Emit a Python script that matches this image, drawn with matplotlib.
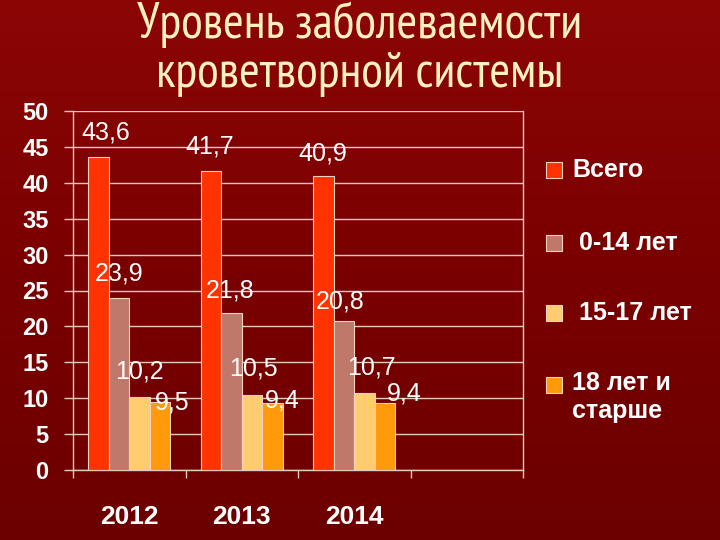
import matplotlib
matplotlib.use("Agg")
import matplotlib.pyplot as plt
import numpy as np
from matplotlib.patches import Rectangle
from matplotlib.colors import LinearSegmentedColormap

# ---- data ----
years = ["2012", "2013", "2014"]
series_names = ["Всего", " 0-14 лет", " 15-17 лет", "18 лет и\nстарше"]
total = [43.6, 41.7, 40.9]
age_0_14 = [23.9, 21.8, 20.8]
age_15_17 = [10.2, 10.5, 10.7]
age_18_plus = [9.5, 9.4, 9.4]
y_ticks = [0, 5, 10, 15, 20, 25, 30, 35, 40, 45, 50]

series = [total, age_0_14, age_15_17, age_18_plus]
colors = ["#FF3300", "#C0786A", "#FFCC6E", "#FF9A0A"]
# label offsets (pixels) relative to top-centre of each bar
label_offsets = [
    [(7, 24), (-1, 24), (-1, 23)],
    [(0, 25), (-1, 23), (-4, 19)],
    [(0, 25), (1, 26), (7, 26)],
    [(12, -1), (10, 2), (19, 9)],
]

plt.rcParams['font.family'] = ['Liberation Sans', 'DejaVu Sans']

fig = plt.figure(figsize=(7.2, 5.4), dpi=100)
fig.patch.set_facecolor("#760000")

# background gradient
bg = fig.add_axes([0, 0, 1, 1], zorder=-10)
grad = np.linspace(0, 1, 256).reshape(-1, 1)
cmap = LinearSegmentedColormap.from_list("bg", ["#8C0606", "#7A0000", "#6C0000"])
bg.imshow(grad, aspect="auto", cmap=cmap, extent=[0, 1, 0, 1], origin="upper")
bg.axis("off")

ax = fig.add_axes([73/720, 1-470/540, (523-73)/720, (470-111)/540])
ax.set_facecolor("none")

w = 0.183
x = np.arange(len(years))
for i, (vals, col) in enumerate(zip(series, colors)):
    xs = x + (i - 1.5) * w
    bars = ax.bar(xs, vals, width=w, color=col, edgecolor="#F2D2C2", linewidth=0.8, zorder=3)
    for j, (b, v) in enumerate(zip(bars, vals)):
        dx, dy = label_offsets[i][j]
        ax.annotate(f"{v:.1f}".replace(".", ","),
                    (b.get_x() + b.get_width()/2, v),
                    xytext=(dx, dy), textcoords="offset pixels",
                    ha="center", va="center", color="white", fontsize=18, zorder=5)

ax.set_ylim(0, 50)
ax.set_xlim(-0.5, 3.5)
ax.set_yticks(y_ticks)
ax.set_yticklabels([str(t) for t in y_ticks])
ax.tick_params(axis="y", colors="#E8C8C0", length=6.5, width=1, labelcolor="white",
               labelsize=17, pad=11)
for lab in ax.get_yticklabels():
    lab.set_fontweight("bold")

ax.set_xticks([-0.5, 0.5, 1.5, 2.5, 3.5])
ax.set_xticklabels([])
ax.tick_params(axis="x", which="major", colors="#E8C8C0", length=6, width=1)
ax.set_xticks(x, minor=True)
ax.set_xticklabels(years, minor=True)
ax.tick_params(axis="x", which="minor", length=0, labelcolor="white", labelsize=19, pad=25)
for lab in ax.get_xticklabels(minor=True):
    lab.set_fontweight("bold")

ax.grid(axis="y", color="#E8C8C0", linewidth=1, zorder=0)
for s in ["left", "bottom", "right"]:
    ax.spines[s].set_color("#E8C8C0")
    ax.spines[s].set_linewidth(1)
ax.spines["top"].set_visible(False)

# title
fig.text(0.5, 1-49/540, "Уровень заболеваемости\nкроветворной системы",
         ha="center", va="center", color="#FFF0C0", fontsize=36,
         family=["PT Sans Narrow", "DejaVu Sans"], linespacing=1.08)

# legend
leg_y = [170, 243, 313, 385]
for name, col, yy in zip(series_names, colors, leg_y):
    fig.patches.append(Rectangle((546/720, 1-(yy+8)/540), 16/720, 16/540,
                                 transform=fig.transFigure, facecolor=col,
                                 edgecolor="#F2D2C2", linewidth=0.8))
    if "\n" in name:
        fig.text(572/720, 1-(yy-14)/540, name, ha="left", va="top", color="white",
                 fontsize=18, fontweight="bold", linespacing=1.2)
    else:
        fig.text(572/720, 1-yy/540, name, ha="left", va="center", color="white",
                 fontsize=18, fontweight="bold")

fig.savefig("out.png", dpi=100, facecolor=fig.get_facecolor())
